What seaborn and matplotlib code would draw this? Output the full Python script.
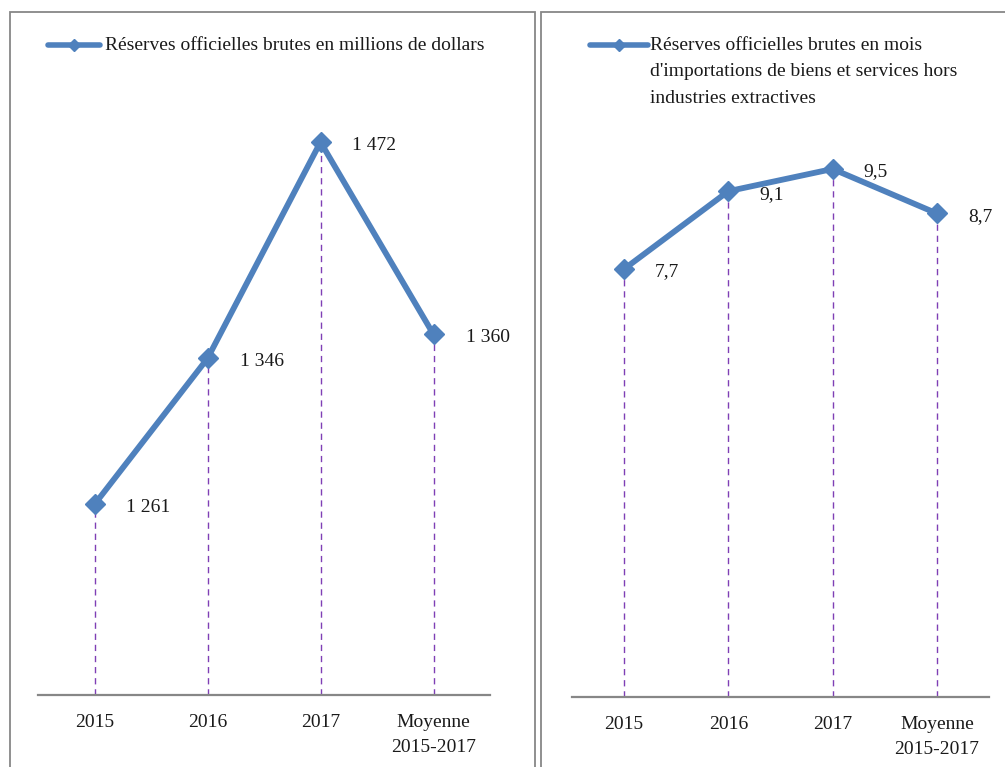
import numpy as np
import seaborn as sns
import matplotlib.pyplot as plt
from matplotlib.lines import Line2D
from matplotlib.patches import Rectangle

# data
categories = ["2015", "2016", "2017", "Moyenne\n2015-2017"]
reserves_musd = [1261, 1346, 1472, 1360]
reserves_mois = [7.7, 9.1, 9.5, 8.7]
label_left = "Réserves officielles brutes en millions de dollars"
label_right = ("Réserves officielles brutes en mois\n"
               "d'importations de biens et services hors\n"
               "industries extractives")

sns.set_theme(style="white")
plt.rcParams["font.family"] = ["Liberation Serif", "DejaVu Serif"]

W, H = 1005, 767
blue = "#4F81BD"
purple = "#7F3FB5"
grey = "#878787"
txt = "#1a1a1a"
fs = 14

fig = plt.figure(figsize=(W / 100, H / 100), dpi=100)


def fx(px):
    return px / W


def fy(py):
    return 1 - py / H


# panel frames
for x0, x1 in [(9.5, 535), (541, 1010)]:
    fig.add_artist(Rectangle((fx(x0), fy(780)), fx(x1 - x0), (780 - 11.5) / H,
                             transform=fig.transFigure, fill=False,
                             edgecolor=grey, lw=1.3))


def panel(rect, values, ylim, fmt, offset):
    ax = fig.add_axes(rect)
    ax.patch.set_alpha(0)
    sns.lineplot(x=categories, y=values, ax=ax, color=blue, lw=4.2,
                 marker="D", markersize=10.5, markeredgecolor=blue,
                 markeredgewidth=1, sort=False)
    ax.vlines(range(len(values)), ylim[0], values, colors=purple, lw=1,
              linestyles=(0, (4.5, 3.5)), zorder=1)
    for i, v in enumerate(values):
        ax.annotate(fmt(v), (i, v), xytext=offset, textcoords="offset pixels",
                    ha="left", va="center", fontsize=fs, color=txt)
    ax.set_xlim(-0.5, len(values) - 0.5)
    ax.set_ylim(*ylim)
    ax.set_yticks([])
    ax.set_xlabel("")
    ax.set_ylabel("")
    for s in ["top", "left", "right"]:
        ax.spines[s].set_visible(False)
    ax.spines["bottom"].set_color(grey)
    ax.spines["bottom"].set_linewidth(1.6)
    ax.tick_params(axis="x", length=0, pad=14, labelsize=fs, labelcolor=txt)
    for t in ax.get_xticklabels():
        t.set_linespacing(1.55)
    return ax


panel([fx(38), 72 / H, fx(452), 601 / H], reserves_musd, (1150, 1500),
      lambda v: f"{v:,}".replace(",", " "), (32, -3))
panel([fx(572), 70 / H, fx(417), 667 / H], reserves_mois, (0, 12),
      lambda v: f"{v:.1f}".replace(".", ","), (31, -3))

# legends
for (x0, x1, tx, text) in [(48, 100, 105, label_left), (590, 648, 650, label_right)]:
    fig.add_artist(Line2D([fx(x0), fx(x1)], [fy(45), fy(45)], transform=fig.transFigure,
                          color=blue, lw=4, solid_capstyle="round"))
    fig.add_artist(Line2D([fx((x0 + x1) / 2)], [fy(45)], transform=fig.transFigure,
                          color=blue, marker="D", markersize=6, lw=0))
    fig.text(fx(tx), fy(37), text, ha="left", va="top", fontsize=fs,
             color=txt, linespacing=1.72)

fig.savefig("out.png", dpi=100)
